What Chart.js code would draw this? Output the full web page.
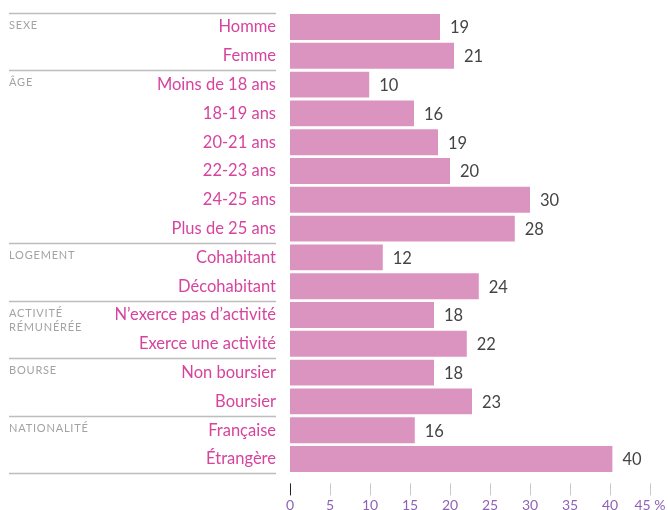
<!DOCTYPE html>
<html>
<head>
<meta charset="utf-8">
<script src="https://cdn.jsdelivr.net/npm/chart.js@4/dist/chart.umd.min.js"></script>
<style>
  html, body { margin: 0; padding: 0; background: #fff; }
  #wrap { position: relative; width: 668px; height: 510px; }
</style>
</head>
<body>
<div id="wrap"><canvas id="chart"></canvas></div>
<script>
// categories, top to bottom
var categories = ['Homme', 'Femme', 'Moins de 18 ans', '18-19 ans', '20-21 ans', '22-23 ans',
  '24-25 ans', 'Plus de 25 ans', 'Cohabitant', 'Décohabitant', 'N\u2019exerce pas d\u2019activité',
  'Exerce une activité', 'Non boursier', 'Boursier', 'Française', 'Étrangère']
// values (%)
var values = [18.75, 20.5, 9.9, 15.5, 18.5, 20, 30, 28.1, 11.6, 23.6, 18, 22.1, 18, 22.75, 15.6, 40.3]
// group headings: [first row index, lines of text]
var groups = [
  [0, ['SEXE']],
  [2, ['ÂGE']],
  [8, ['LOGEMENT']],
  [10, ['ACTIVITÉ', 'RÉMUNÉRÉE']],
  [12, ['BOURSE']],
  [14, ['NATIONALITÉ']]
]
var xTicks = [0, 5, 10, 15, 20, 25, 30, 35, 40, 45]

var FONT = 'Lato, "Open Sans", sans-serif'

var sidePlugin = {
  id: 'side',
  afterDraw: function (chart) {
    var ctx = chart.ctx
    var y = chart.scales.y
    var x = chart.scales.x
    var half = (y.getPixelForValue(1) - y.getPixelForValue(0)) / 2
    ctx.save()
    // separator lines
    ctx.strokeStyle = '#bdbdbd'
    ctx.lineWidth = 1.5
    var rows = groups.map(function (g) { return g[0] }).concat([categories.length])
    rows.forEach(function (r) {
      var py = Math.round(y.getPixelForValue(r) - half) + 0.5
      ctx.beginPath()
      ctx.moveTo(9, py)
      ctx.lineTo(276, py)
      ctx.stroke()
    })
    // group headings
    ctx.fillStyle = '#a3a3a3'
    ctx.font = '11px ' + FONT
    ctx.letterSpacing = '0.8px'
    ctx.textAlign = 'left'
    ctx.textBaseline = 'top'
    groups.forEach(function (g) {
      var top = y.getPixelForValue(g[0]) - half + 7
      g[1].forEach(function (line, i) {
        ctx.fillText(line, 9, top + i * 14)
      })
    })
    ctx.letterSpacing = '0px'
    // value labels
    var meta = chart.getDatasetMeta(0)
    ctx.fillStyle = '#444'
    ctx.font = '16.5px ' + FONT
    ctx.textBaseline = 'middle'
    meta.data.forEach(function (bar, i) {
      ctx.fillText(String(Math.round(values[i])), bar.x + 10, bar.y + 1)
    })
    // x tick marks below the bars
    var bottom = chart.chartArea.bottom
    xTicks.forEach(function (t, i) {
      var px = Math.round(x.getPixelForValue(t)) + 0.5
      ctx.strokeStyle = i === 0 ? '#222' : '#c8c8c8'
      ctx.lineWidth = 1
      ctx.beginPath()
      ctx.moveTo(px, bottom + 10)
      ctx.lineTo(px, bottom + 22)
      ctx.stroke()
    })
    ctx.restore()
  }
}

var ctx = document.getElementById('chart').getContext('2d')
var myChart = new Chart(ctx, {
  type: 'bar',
  data: {
    labels: categories,
    datasets: [{
      data: values,
      backgroundColor: '#db94c0',
      barPercentage: 0.9,
      categoryPercentage: 1
    }]
  },
  options: {
    indexAxis: 'y',
    responsive: true,
    maintainAspectRatio: false,
    animation: false,
    layout: { padding: { top: 12.6, right: 18, left: 0, bottom: 0 } },
    plugins: { legend: { display: false }, tooltip: { enabled: false } },
    scales: {
      x: {
        min: 0,
        max: 45,
        afterBuildTicks: function (scale) {
          scale.ticks = xTicks.map(function (v) { return { value: v } })
        },
        afterFit: function (scale) {
          scale.height = 36.6
          scale.paddingLeft = 0
          scale.paddingRight = 0
        },
        grid: { display: false, drawTicks: false },
        border: { display: false },
        ticks: {
          color: '#8e63b5',
          padding: 24,
          maxRotation: 0,
          autoSkip: false,
          font: { family: FONT, size: 14 },
          callback: function (v) { return v === 45 ? '45 %' : String(v) }
        }
      },
      y: {
        afterFit: function (scale) {
          scale.width = 290
          scale.paddingTop = 0
          scale.paddingBottom = 0
        },
        grid: { display: false, drawTicks: false },
        border: { display: false },
        ticks: {
          color: '#d6449e',
          padding: 14,
          autoSkip: false,
          font: { family: FONT, size: 16.5 }
        }
      }
    }
  },
  plugins: [sidePlugin]
})
</script>
</body>
</html>
